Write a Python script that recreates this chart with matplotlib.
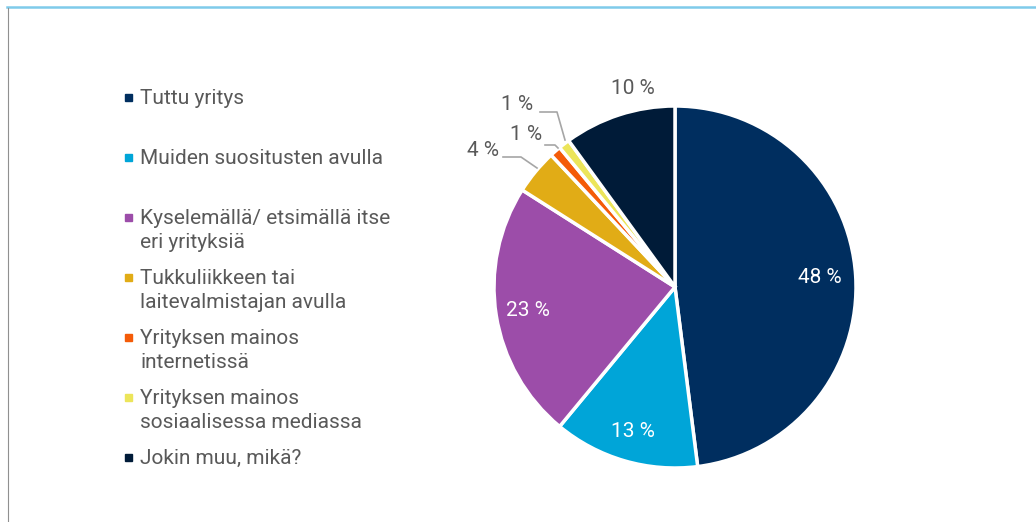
import matplotlib
matplotlib.use("Agg")
import matplotlib.pyplot as plt
import numpy as np

categories = ["Tuttu yritys", "Muiden suositusten avulla",
              "Kyselemällä/ etsimällä itse\neri yrityksiä",
              "Tukkuliikkeen tai\nlaitevalmistajan avulla",
              "Yrityksen mainos\ninternetissä",
              "Yrityksen mainos\nsosiaalisessa mediassa",
              "Jokin muu, mikä?"]
values = [48, 13, 23, 4, 1, 1, 10]
labels = ["48 %", "13 %", "23 %", "4 %", "1 %", "1 %", "10 %"]
colors = ["#002E5F", "#00A5D8", "#9C4DA9", "#E1AC16", "#F45B08", "#ECE55A", "#001B38"]

W, H = 1036, 522
fig = plt.figure(figsize=(W / 100, H / 100), dpi=100)
plt.rcParams['font.family'] = ['Roboto', 'DejaVu Sans']

cx, cy, R = 675, 287, 181
half = 1.2 * R
ax = fig.add_axes([(cx - half) / W, (H - cy - half) / H, 2 * half / W, 2 * half / H])
wedges, _ = ax.pie(values, colors=colors, startangle=90, counterclock=False,
                   radius=1.0, wedgeprops=dict(edgecolor="white", linewidth=2.5))
ax.set_xlim(-1.2, 1.2)
ax.set_ylim(-1.2, 1.2)
ax.set_aspect("equal")
ax.axis("off")

def px(x, y):
    return (x - cx) / R, (cy - y) / R

FS = 15
# inside labels
inside = {0: 0.8, 1: 0.83, 2: 0.82}
for i, w in enumerate(wedges):
    mid = np.deg2rad((w.theta1 + w.theta2) / 2)
    if i in inside:
        r = inside[i]
        ax.text(r * np.cos(mid), r * np.sin(mid), labels[i], color="white",
                fontsize=FS, ha="center", va="center")

gray = "#595959"
lc = "#A6A6A6"
# outside labels with leader lines
out = {
    3: ((483, 150), [(503, 157), (521, 157), (537, 168)]),
    4: ((526, 134), [(545, 145), (555, 145), (558, 148)]),
    5: ((517, 104), [(540, 112), (557, 112), (565, 140)]),
    6: ((633, 88), None),
}
for i, (pos, line) in out.items():
    x, y = px(*pos)
    ax.text(x, y, labels[i], color=gray, fontsize=FS, ha="center", va="center")
    if line:
        pts = np.array([px(a, b) for a, b in line])
        ax.plot(pts[:, 0], pts[:, 1], color=lc, lw=1.2)

# legend
for i, (cat, col) in enumerate(zip(categories, colors)):
    yc = 97 + 60 * i
    fig.patches.append(plt.Rectangle(((125) / W, (H - yc - 3.5) / H), 7 / W, 7 / H,
                                     transform=fig.transFigure, color=col))
    for k, line in enumerate(cat.split("\n")):
        fig.text(140 / W, (H - (yc + 7 + 24 * k)) / H, line, fontsize=FS, color=gray,
                 ha="left", va="baseline")

# frame lines
fig.add_artist(plt.Line2D([7 / W, 1], [1 - 7 / H, 1 - 7 / H], color="#7FCBEA", lw=1.8,
                          transform=fig.transFigure))
fig.add_artist(plt.Line2D([7.5 / W, 7.5 / W], [0, 1 - 8 / H], color="#909090", lw=0.8,
                          transform=fig.transFigure))

fig.savefig("out.png", dpi=100)
